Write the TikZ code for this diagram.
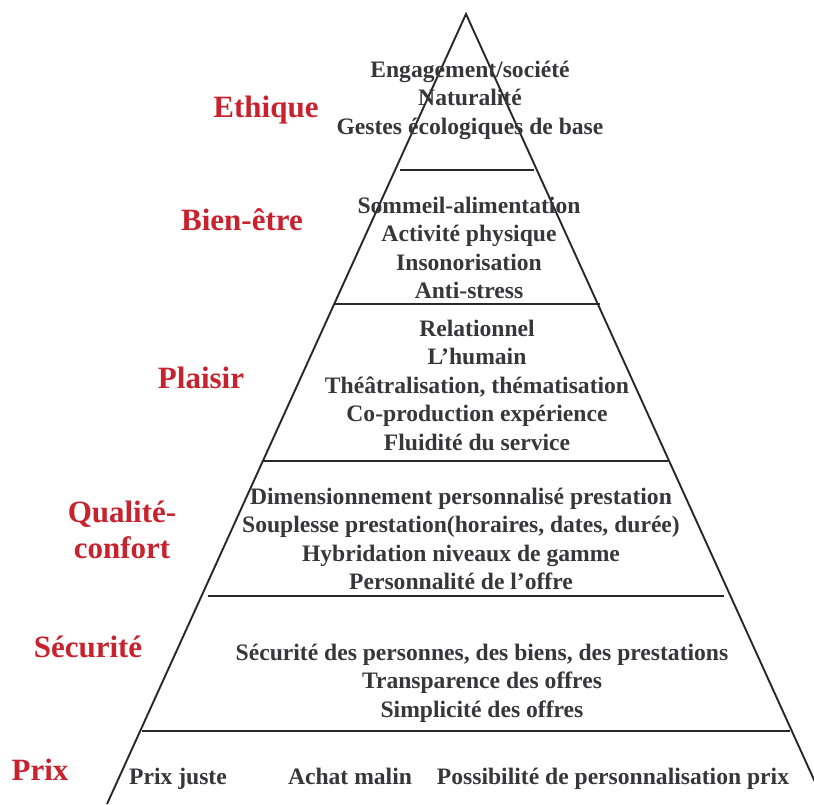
\documentclass[tikz,border=0pt]{standalone}
\usepackage{fontspec}
\setmainfont{Liberation Serif}
\definecolor{txtgray}{RGB}{55,55,58}
\definecolor{linegray}{RGB}{40,40,42}
\definecolor{lvlred}{RGB}{200,34,46}
\begin{document}
\begin{tikzpicture}[x=1pt,y=-1pt,
  body/.style={font=\bfseries\fontsize{23.6}{28.5}\selectfont, text=txtgray, align=center, inner sep=0pt},
  lvl/.style={font=\bfseries\fontsize{31}{36}\selectfont, text=lvlred, align=center, inner sep=0pt},
  side/.style={draw=linegray, line width=1.9pt, line join=miter},
  sep/.style={draw=linegray, line width=2.2pt}]
\useasboundingbox (0,0) rectangle (814,804);
\begin{scope}
  \clip (0,0) rectangle (814,804);
  \coordinate (apex) at (466,14);
  \coordinate (bl) at (107,804);
  \coordinate (br) at (825,804);
  \draw[side] (bl) -- (apex) -- (br);
\end{scope}
% separators
\coordinate (s1l) at (400,170); \coordinate (s1r) at (534,170);
\coordinate (s2l) at (334,304); \coordinate (s2r) at (600,304);
\coordinate (s3l) at (263,461); \coordinate (s3r) at (668,461);
\coordinate (s4l) at (208,596); \coordinate (s4r) at (724,596);
\coordinate (s5l) at (142,731); \coordinate (s5r) at (790,731);
\draw[sep] (s1l) -- (s1r);
\draw[sep] (s2l) -- (s2r);
\draw[sep] (s3l) -- (s3r);
\draw[sep] (s4l) -- (s4r);
\draw[sep] (s5l) -- (s5r);
% level labels
\node[lvl] (lethique) at (266,110) {Ethique};
\node[lvl] (lbien) at (242,220) {Bien-être};
\node[lvl] (lplaisir) at (201,378) {Plaisir};
\node[lvl] (lqualite) at (122,530) {Qualité-\\confort};
\node[lvl] (lsecurite) at (88,647) {Sécurité};
\node[lvl] (lprix) at (40,770) {Prix};
% contents
\node[body] (cethique) at (470,100) {Engagement/société\\Naturalité\\Gestes écologiques de base};
\node[body] (cbien) at (469,248) {Sommeil-alimentation\\Activité physique\\Insonorisation\\Anti-stress};
\node[body] (cplaisir) at (477,385) {Relationnel\\L’humain\\Théâtralisation, thématisation\\Co-production expérience\\Fluidité du service};
\node[body] (cqualite) at (461,539) {Dimensionnement personnalisé prestation\\Souplesse prestation(horaires, dates, durée)\\Hybridation niveaux de gamme\\Personnalité de l’offre};
\node[body] (csecurite) at (482,683) {Sécurité des personnes, des biens, des prestations\\Transparence des offres\\Simplicité des offres};
\node[body, anchor=base] (cprix1) at (178,784) {Prix juste};
\node[body, anchor=base] (cprix2) at (350,784) {Achat malin};
\node[body, anchor=base] (cprix3) at (613,784) {Possibilité de personnalisation prix};
\end{tikzpicture}
\end{document}
